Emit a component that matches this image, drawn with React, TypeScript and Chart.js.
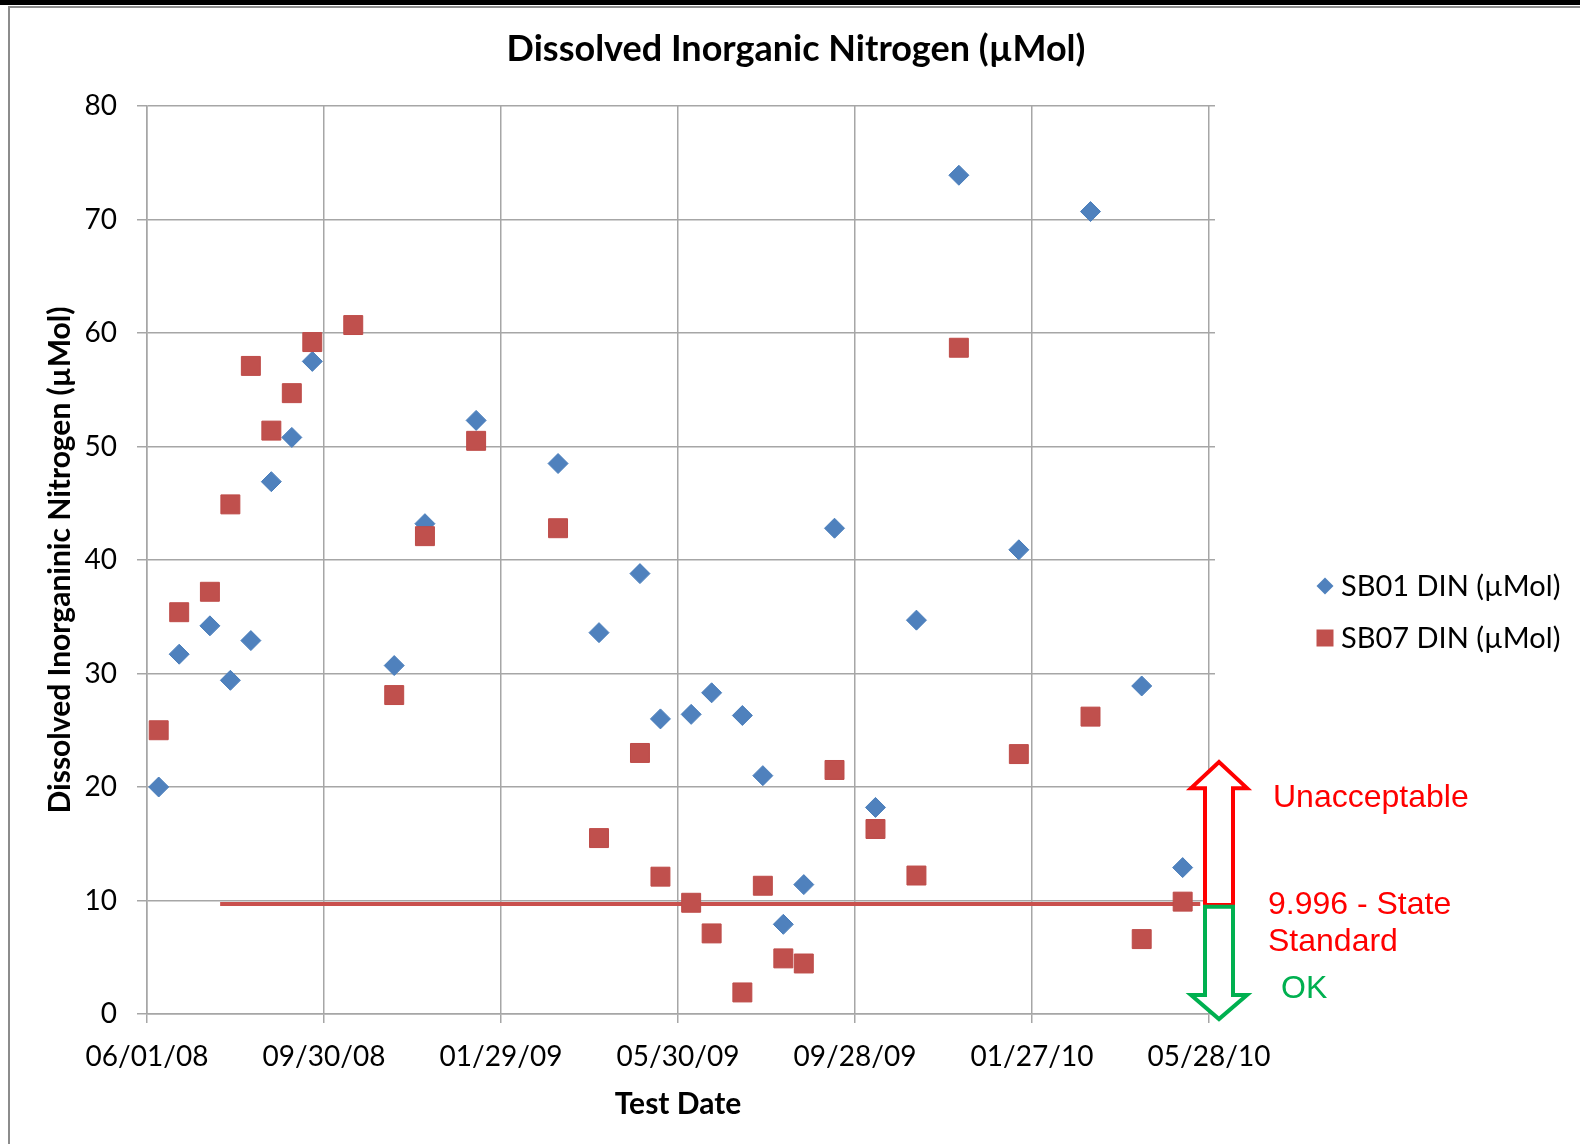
import { useEffect, useRef } from 'react';
import { Chart, registerables } from 'chart.js';

Chart.register(...registerables);

// ---------- data ----------
const X_TICK_LABELS = ['06/01/08', '09/30/08', '01/29/09', '05/30/09', '09/28/09', '01/27/10', '05/28/10'];
const Y_MIN = 0;
const Y_MAX = 80;
const Y_STEP = 10;

const SB01_DATES = [
  '06/09/08', '06/23/08', '07/14/08', '07/28/08', '08/11/08', '08/25/08', '09/08/08', '09/22/08',
  '11/17/08', '12/08/08', '01/12/09', '03/09/09', '04/06/09', '05/04/09', '05/18/09', '06/08/09',
  '06/22/09', '07/13/09', '07/27/09', '08/10/09', '08/24/09', '09/14/09', '10/12/09', '11/09/09',
  '12/08/09', '01/18/10', '03/08/10', '04/12/10', '05/10/10',
];
const SB01_VALUES = [
  20.0, 31.7, 34.2, 29.4, 32.9, 46.9, 50.8, 57.5,
  30.7, 43.2, 52.3, 48.5, 33.6, 38.8, 26.0, 26.4,
  28.3, 26.3, 21.0, 7.9, 11.4, 42.8, 18.2, 34.7,
  73.9, 40.9, 70.7, 28.9, 12.9,
];

const SB07_DATES = [
  '06/09/08', '06/23/08', '07/14/08', '07/28/08', '08/11/08', '08/25/08', '09/08/08', '09/22/08',
  '10/20/08', '11/17/08', '12/08/08', '01/12/09', '03/09/09', '04/06/09', '05/04/09', '05/18/09',
  '06/08/09', '06/22/09', '07/13/09', '07/27/09', '08/10/09', '08/24/09', '09/14/09', '10/12/09',
  '11/09/09', '12/08/09', '01/18/10', '03/08/10', '04/12/10', '05/10/10',
];
const SB07_VALUES = [
  25.0, 35.4, 37.2, 44.9, 57.1, 51.4, 54.7, 59.2,
  60.7, 28.1, 42.1, 50.5, 42.8, 15.5, 23.0, 12.1,
  9.8, 7.1, 1.9, 11.3, 4.9, 4.45, 21.5, 16.3,
  12.2, 58.7, 22.9, 26.2, 6.6, 9.9,
];

const STANDARD_DATES = ['07/21/08', '05/22/10'];
const STANDARD_VALUES = [9.7, 9.7];

const SERIES_LABELS = ['SB01 DIN (µMol)', 'SB07 DIN (µMol)', 'State Standard'];

// annotation arrow extents (in y-axis values)
const UP_ARROW = { base: 9.6, head: 19.9, tip: 22.2 };
const DOWN_ARROW = { base: 9.45, head: 1.67, tip: -0.45 };
const NOTES = [
  { text: 'Unacceptable', y: 19.05, dx: 64, color: '#FF0000' },
  { text: '9.996 - State', y: 9.6, dx: 59, color: '#FF0000' },
  { text: 'Standard', y: 6.3, dx: 59, color: '#FF0000' },
  { text: 'OK', y: 2.2, dx: 72, color: '#00B050' },
];

// ---------- helpers ----------
function dayOf(s: string): number {
  const [m, d, y] = s.split('/').map(Number);
  return Date.UTC(2000 + y, m - 1, d) / 86400000;
}

function toPoints(dates: string[], values: number[]) {
  return dates.map((d, i) => ({ x: dayOf(d), y: values[i] }));
}

function drawArrow(ctx: CanvasRenderingContext2D, cx: number, yBase: number, yHead: number, yTip: number, color: string) {
  const w = 14;
  const h = 28;
  ctx.save();
  ctx.beginPath();
  ctx.moveTo(cx - w, yBase);
  ctx.lineTo(cx - w, yHead);
  ctx.lineTo(cx - h, yHead);
  ctx.lineTo(cx, yTip);
  ctx.lineTo(cx + h, yHead);
  ctx.lineTo(cx + w, yHead);
  ctx.lineTo(cx + w, yBase);
  ctx.closePath();
  ctx.fillStyle = '#FFFFFF';
  ctx.fill();
  ctx.lineWidth = 4;
  ctx.lineJoin = 'miter';
  ctx.strokeStyle = color;
  ctx.stroke();
  ctx.restore();
}

const annotationPlugin = {
  id: 'dinAnnotations',
  afterDraw(chart: any) {
    const { ctx, chartArea, scales } = chart;
    const y = scales.y;
    const cx = chartArea.right + 10;
    drawArrow(ctx, cx, y.getPixelForValue(UP_ARROW.base), y.getPixelForValue(UP_ARROW.head), y.getPixelForValue(UP_ARROW.tip), '#FF0000');
    drawArrow(ctx, cx, y.getPixelForValue(DOWN_ARROW.base), y.getPixelForValue(DOWN_ARROW.head), y.getPixelForValue(DOWN_ARROW.tip), '#00B050');

    ctx.save();
    ctx.font = '32px "Liberation Sans", Arial, sans-serif';
    ctx.textBaseline = 'middle';
    ctx.textAlign = 'left';
    NOTES.forEach((n) => {
      ctx.fillStyle = n.color;
      ctx.fillText(n.text, chartArea.right + n.dx, y.getPixelForValue(n.y));
    });
    ctx.restore();

    // legend
    ctx.save();
    const ds = chart.data.datasets;
    const lx = chartArea.right + 116;
    const rows = [chartArea.top + 480, chartArea.top + 532];
    ctx.font = '29px Lato, sans-serif';
    ctx.textBaseline = 'middle';
    ctx.textAlign = 'left';
    [0, 1].forEach((i) => {
      const ry = rows[i];
      ctx.fillStyle = ds[i].backgroundColor;
      ctx.beginPath();
      if (ds[i].pointStyle === 'rectRot') {
        const r = 8.5;
        ctx.moveTo(lx - r, ry);
        ctx.lineTo(lx, ry - r);
        ctx.lineTo(lx + r, ry);
        ctx.lineTo(lx, ry + r);
        ctx.closePath();
      } else {
        ctx.rect(lx - 8.5, ry - 8.5, 17, 17);
      }
      ctx.fill();
      ctx.fillStyle = '#000000';
      ctx.fillText(ds[i].label, lx + 16, ry + 1);
    });
    ctx.restore();

    // frame
    ctx.save();
    ctx.fillStyle = '#000000';
    ctx.fillRect(0, 0, chart.width, 5);
    ctx.fillStyle = '#8C8C8C';
    ctx.fillRect(8, 6, chart.width - 8, 2);
    ctx.fillRect(8, 6, 2, chart.height - 6);
    ctx.restore();
  },
};

const GRID = '#A6A6A6';

export default function App() {
  const ref = useRef<HTMLCanvasElement>(null);

  useEffect(() => {
    const canvas = ref.current;
    if (!canvas) return;
    const chart = new Chart(canvas, {
      type: 'scatter',
      data: {
        datasets: [
          {
            label: SERIES_LABELS[0],
            data: toPoints(SB01_DATES, SB01_VALUES),
            pointStyle: 'rectRot',
            pointRadius: 10,
            pointHoverRadius: 10,
            backgroundColor: '#4F81BD',
            borderColor: '#4A7EBB',
            borderWidth: 1,
            order: 1,
          },
          {
            label: SERIES_LABELS[1],
            data: toPoints(SB07_DATES, SB07_VALUES),
            pointStyle: 'rect',
            pointRadius: 13.4,
            pointHoverRadius: 13.4,
            backgroundColor: '#C0504D',
            borderColor: '#BE4B48',
            borderWidth: 1,
            order: 0,
          },
          {
            label: SERIES_LABELS[2],
            data: toPoints(STANDARD_DATES, STANDARD_VALUES),
            showLine: true,
            pointRadius: 0,
            borderColor: '#C9504D',
            backgroundColor: '#C9504D',
            borderWidth: 4,
            order: 2,
          },
        ],
      },
      options: {
        responsive: false,
        animation: false,
        layout: { padding: { left: 12, right: 0, top: 0, bottom: 0 } },
        plugins: {
          legend: { display: false },
          tooltip: { enabled: false },
          title: {
            display: true,
            text: 'Dissolved Inorganic Nitrogen (µMol)',
            color: '#000000',
            font: { family: 'Lato', size: 36, weight: 'bold' },
            padding: { top: 28, bottom: 34.8 },
          },
        },
        scales: {
          x: {
            type: 'linear',
            min: dayOf(X_TICK_LABELS[0]),
            max: dayOf(X_TICK_LABELS[X_TICK_LABELS.length - 1]),
            afterBuildTicks: (scale: any) => {
              scale.ticks = X_TICK_LABELS.map((l) => ({ value: dayOf(l) }));
            },
            afterFit: (scale: any) => {
              scale.height = 130;
            },
            ticks: {
              color: '#000000',
              font: { family: 'Lato', size: 28 },
              padding: 17,
              maxRotation: 0,
              autoSkip: false,
              callback: (value: any) => {
                const i = X_TICK_LABELS.findIndex((l) => dayOf(l) === value);
                return i >= 0 ? X_TICK_LABELS[i] : '';
              },
            },
            grid: { color: GRID, lineWidth: 1.5, tickLength: 9 },
            border: { color: GRID, width: 1.5 },
            title: {
              display: true,
              text: 'Test Date',
              color: '#000000',
              font: { family: 'Lato', size: 30, weight: 'bold' },
              padding: { top: 0, bottom: 22 },
            },
          },
          y: {
            min: Y_MIN,
            max: Y_MAX,
            afterFit: (scale: any) => {
              scale.width = 135;
            },
            ticks: {
              stepSize: Y_STEP,
              color: '#000000',
              font: { family: 'Lato', size: 28 },
              padding: 20,
            },
            grid: { color: GRID, lineWidth: 1.5, tickLength: 10 },
            border: { color: GRID, width: 1.5 },
            title: {
              display: true,
              text: 'Dissolved Inorganinic Nitrogen (µMol)',
              color: '#000000',
              font: { family: 'Lato', size: 30, weight: 'bold' },
              padding: { top: 30, bottom: 0 },
            },
          },
          y2: {
            position: 'right',
            min: Y_MIN,
            max: Y_MAX,
            afterFit: (scale: any) => {
              scale.width = 371;
            },
            ticks: { display: false, stepSize: Y_STEP },
            grid: { drawOnChartArea: false, color: GRID, lineWidth: 1.5, tickLength: 6 },
            border: { display: false },
          },
        },
      },
      plugins: [annotationPlugin],
    } as any);
    return () => chart.destroy();
  }, []);

  return (
    <div style={{ position: 'absolute', left: 0, top: 0, width: 1580, height: 1144, background: '#FFFFFF' }}>
      <canvas ref={ref} width={1580} height={1144} style={{ display: 'block' }} />
    </div>
  );
}
